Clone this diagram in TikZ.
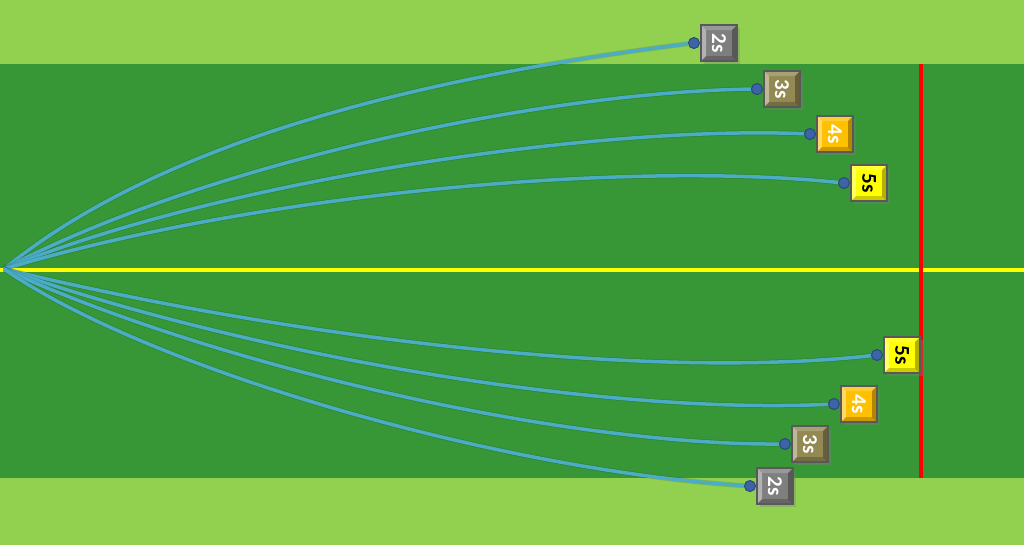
\documentclass[tikz,border=0pt]{standalone}
\usepackage{graphicx,tikz}
\usepackage{fontspec}
\setsansfont{Carlito}
\usetikzlibrary{positioning,shadows}

\definecolor{lightgrass}{HTML}{92D050}
\definecolor{darkgrass}{HTML}{379737}
\definecolor{trackblue}{HTML}{4BACC6}
\definecolor{dotblue}{HTML}{3D64A6}
\definecolor{dotedge}{HTML}{2A4A7E}
\definecolor{tilegray}{HTML}{7F7F7F}
\definecolor{tiletan}{HTML}{938953}
\definecolor{tileorange}{HTML}{FFC000}
\definecolor{tileyellow}{HTML}{FFFF00}

\newcommand\ppb{path picture bounding box}
\tikzset{
  tile/.style={draw=black!65, line width=0.3pt, fill=#1, minimum size=3.6mm, inner sep=0pt,
    font=\sffamily\bfseries\fontsize{6}{7}\selectfont, text=white,
    drop shadow={opacity=.35, shadow xshift=.25mm, shadow yshift=-.25mm},
    path picture={
      \fill[white,opacity=.4] (\ppb.north west) -- (\ppb.south west) -- ([shift={(.5mm,.5mm)}]\ppb.south west) -- ([shift={(.5mm,-.5mm)}]\ppb.north west) -- cycle;
      \fill[white,opacity=.2] (\ppb.north west) -- (\ppb.north east) -- ([shift={(-.5mm,-.5mm)}]\ppb.north east) -- ([shift={(.5mm,-.5mm)}]\ppb.north west) -- cycle;
      \fill[black,opacity=.3] (\ppb.north east) -- (\ppb.south east) -- ([shift={(-.5mm,.5mm)}]\ppb.south east) -- ([shift={(-.5mm,-.5mm)}]\ppb.north east) -- cycle;
      \fill[black,opacity=.2] (\ppb.south west) -- (\ppb.south east) -- ([shift={(-.5mm,.5mm)}]\ppb.south east) -- ([shift={(.5mm,.5mm)}]\ppb.south west) -- cycle;
    }},
  dot/.style={circle, fill=dotblue, draw=dotedge, line width=0.3pt, minimum size=1.1mm, inner sep=0pt},
  track/.style={draw=trackblue, line width=0.35mm, preaction={draw=black, opacity=.12, line width=.5mm}},
}

\begin{document}
\begin{tikzpicture}[x=0.1mm,y=-0.1mm]
\useasboundingbox (0,0) rectangle (1024,544);
\clip (0,0) rectangle (1024,544);
% field
\fill[lightgrass] (-5,-5) rectangle (1030,550);
\fill[darkgrass] (-5,64) rectangle (1030,478);
\draw[tileyellow, line width=0.4mm] (0,270) -- (1024,270);
\draw[red, line width=0.4mm] (921,64) -- (921,478);
\coordinate (O) at (4,269);
% upper tiles
\node (T2) [tile=tilegray] at (719,43) {\rotatebox{-90}{2s}};
\node (T3) [tile=tiletan] at (782,89) {\rotatebox{-90}{3s}};
\node (T4) [tile=tileorange] at (835,134) {\rotatebox{-90}{4s}};
\node (T5) [tile=tileyellow, text=black] at (869,183) {\rotatebox{-90}{5s}};
% lower tiles
\node (L5) [tile=tileyellow, text=black] at (902,355) {\rotatebox{-90}{5s}};
\node (L4) [tile=tileorange] at (859,404) {\rotatebox{-90}{4s}};
\node (L3) [tile=tiletan] at (810,444) {\rotatebox{-90}{3s}};
\node (L2) [tile=tilegray] at (775,486) {\rotatebox{-90}{2s}};
% dots
\node (dT2) [dot, left=0.05mm of T2] {};
\node (dT3) [dot, left=0.05mm of T3] {};
\node (dT4) [dot, left=0.05mm of T4] {};
\node (dT5) [dot, left=0.05mm of T5] {};
\node (dL5) [dot, left=0.05mm of L5] {};
\node (dL4) [dot, left=0.05mm of L4] {};
\node (dL3) [dot, left=0.05mm of L3] {};
\node (dL2) [dot, left=0.05mm of L2] {};
% tracks
\draw[track] (O) .. controls (180,125) and (480,70) .. (dT2);
\draw[track] (O) .. controls (200,165) and (540,92) .. (dT3);
\draw[track] (O) .. controls (220,180) and (600,125) .. (dT4);
\draw[track] (O) .. controls (250,195) and (620,160) .. (dT5);
\draw[track] (O) .. controls (300,340) and (650,380) .. (dL5);
\draw[track] (O) .. controls (250,355) and (600,415) .. (dL4);
\draw[track] (O) .. controls (200,360) and (550,445) .. (dL3);
\draw[track] (O) .. controls (150,370) and (500,470) .. (dL2);
\end{tikzpicture}
\end{document}
